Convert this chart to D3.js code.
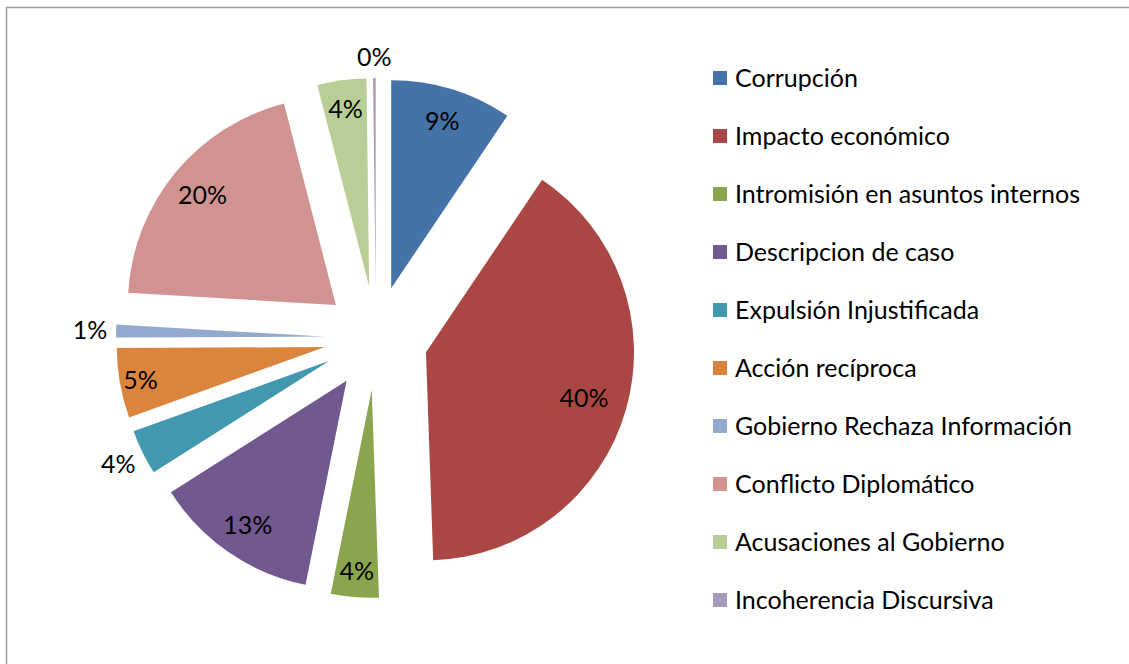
<!DOCTYPE html>
<html>
<head>
<meta charset="utf-8">
<script src="https://cdn.jsdelivr.net/npm/d3@7"></script>
<style>
  body { margin: 0; background: #fff; }
  svg { display: block; }
</style>
</head>
<body>
<script>
// categories and values (percent of total)
var categories = ["Corrupción", "Impacto económico", "Intromisión en asuntos internos",
    "Descripcion de caso", "Expulsión Injustificada", "Acción recíproca",
    "Gobierno Rechaza Información", "Conflicto Diplomático", "Acusaciones al Gobierno",
    "Incoherencia Discursiva"];
var values = [9.4, 39.9, 3.7, 12.8, 3.5, 5.4, 1.0, 20.0, 3.8, 0.2];
var colors = ["#4572A7", "#AA4643", "#89A54E", "#71588F", "#4198AF",
    "#DB843D", "#93A9CF", "#D19392", "#B9CD96", "#A99BBD"];

// label distance from slice tip, as a share of the radius (Excel "best fit")
var labelDist = [0.84, 0.79, 0.875, 0.84, 1.13, 0.9, 1.125, 0.83, 0.86, 1.1];

var width = 1129, height = 664;
var cx = 376, cy = 338, R = 208, explode = 52;
var font = "Lato, 'Open Sans', sans-serif";

var svg = d3.select("body").append("svg")
    .attr("width", width)
    .attr("height", height);

// chart frame (runs off the right and bottom of the picture)
svg.append("rect")
    .attr("x", 6.5).attr("y", 7.5)
    .attr("width", width + 20).attr("height", height + 20)
    .attr("fill", "#fff")
    .attr("stroke", "#9a9a9a")
    .attr("stroke-width", 1.5);

var total = d3.sum(values);
var pie = d3.pie().sort(null).value(function(d) { return d; });
var arcs = pie(values);
var arc = d3.arc().innerRadius(0).outerRadius(R);

function dir(a) { return [Math.sin(a), -Math.cos(a)]; }

var g = svg.append("g").attr("transform", "translate(" + cx + "," + cy + ")");

g.selectAll("path.slice")
    .data(arcs)
    .enter()
    .append("path")
    .attr("class", "slice")
    .attr("d", arc)
    .attr("fill", function(d, i) { return colors[i]; })
    .attr("transform", function(d) {
        var m = dir((d.startAngle + d.endAngle) / 2);
        return "translate(" + (m[0] * explode) + "," + (m[1] * explode) + ")";
    });

// percent labels
g.selectAll("text.pct")
    .data(arcs)
    .enter()
    .append("text")
    .attr("class", "pct")
    .attr("x", function(d, i) {
        var m = dir((d.startAngle + d.endAngle) / 2);
        return m[0] * (explode + labelDist[i] * R);
    })
    .attr("y", function(d, i) {
        var m = dir((d.startAngle + d.endAngle) / 2);
        return m[1] * (explode + labelDist[i] * R) - 1;
    })
    .attr("text-anchor", "middle")
    .attr("dominant-baseline", "central")
    .attr("font-family", font)
    .attr("font-size", "25px")
    .attr("fill", "#000")
    .text(function(d) { return Math.round(d.value / total * 100) + "%"; });

// legend
var legY = d3.scalePoint()
    .domain(categories)
    .range([78, 600]);

var leg = svg.append("g").attr("class", "legend");
var rows = leg.selectAll("g")
    .data(categories)
    .enter()
    .append("g")
    .attr("transform", function(d) { return "translate(713," + legY(d) + ")"; });

rows.append("rect")
    .attr("x", 0).attr("y", -7)
    .attr("width", 14).attr("height", 14)
    .attr("fill", function(d, i) { return colors[i]; });

rows.append("text")
    .attr("x", 22)
    .attr("y", -1)
    .attr("dominant-baseline", "central")
    .attr("font-family", font)
    .attr("font-size", "25px")
    .attr("fill", "#000")
    .text(function(d) { return d; });
</script>
</body>
</html>
